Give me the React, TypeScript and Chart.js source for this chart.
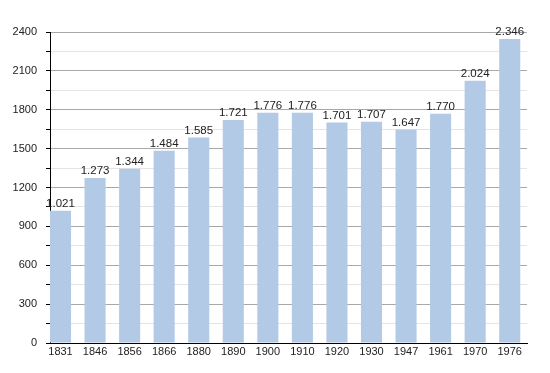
import React, { useEffect, useRef } from "react";
import { Chart, registerables } from "chart.js";

Chart.register(...registerables);

const years = ["1831", "1846", "1856", "1866", "1880", "1890", "1900", "1910", "1920", "1930", "1947", "1961", "1970", "1976"];
const population = [1021, 1273, 1344, 1484, 1585, 1721, 1776, 1776, 1701, 1707, 1647, 1770, 2024, 2346];
const yTickLabels = [0, 300, 600, 900, 1200, 1500, 1800, 2100, 2400];

const FONT = "'Liberation Sans', Arial, Helvetica, sans-serif";

function fmt(v: number): string {
  return String(v).replace(/\B(?=(\d{3})+(?!\d))/g, ".");
}

const valueLabels = {
  id: "valueLabels",
  afterDatasetsDraw(chart: any) {
    const ctx = chart.ctx;
    const meta = chart.getDatasetMeta(0);
    ctx.save();
    ctx.font = `11.5px ${FONT}`;
    ctx.fillStyle = "#222";
    ctx.textAlign = "center";
    ctx.textBaseline = "alphabetic";
    meta.data.forEach((el: any, i: number) => {
      ctx.fillText(fmt(population[i]), el.x, el.y - 4);
    });
    ctx.restore();
  },
};

export default function App() {
  const ref = useRef<HTMLCanvasElement | null>(null);
  useEffect(() => {
    if (!ref.current) return;
    const chart = new Chart(ref.current, {
      type: "bar",
      data: {
        datasets: [
          {
            data: population.map((v, i) => ({ x: i, y: v })),
            backgroundColor: "#b2cae5",
            borderWidth: 0,
            categoryPercentage: 1,
            barPercentage: 0.61,
          },
        ],
      },
      options: {
        animation: false,
        responsive: false,
        maintainAspectRatio: false,
        layout: { padding: { top: 32, right: 23, left: 0, bottom: 0 } },
        plugins: { legend: { display: false }, tooltip: { enabled: false } },
        scales: {
          x: {
            type: "linear",
            offset: false,
            min: -0.304,
            max: 13.5,
            grid: { display: false, drawTicks: false, offset: false },
            border: { display: true, color: "#000", width: 1 },
            afterBuildTicks: (scale: any) => {
              scale.ticks = years.map((_, i) => ({ value: i }));
            },
            afterFit: (scale: any) => {
              scale.height = 30;
            },
            ticks: {
              autoSkip: false,
              maxRotation: 0,
              padding: 2,
              color: "#222",
              font: { family: FONT, size: 11 },
              callback: (v: any) => years[v as number] ?? "",
            },
          },
          y: {
            min: 0,
            max: 2400,
            afterFit: (scale: any) => {
              scale.width = 50;
            },
            border: { display: true, color: "#000", width: 1 },
            grid: {
              color: (c: any) => (yTickLabels.includes(c.tick?.value) ? "#a8a8a8" : "#e4e4e4"),
              tickColor: "#000",
              tickLength: 4,
              lineWidth: 1,
            },
            ticks: {
              stepSize: 150,
              padding: 9,
              color: "#222",
              font: { family: FONT, size: 11 },
              callback: (v: any) => (yTickLabels.includes(v as number) ? String(v) : ""),
            },
          },
        },
      },
      plugins: [valueLabels],
    });
    return () => chart.destroy();
  }, []);
  return (
    <div style={{ position: "fixed", left: 0, top: 0, width: 550, height: 373, background: "#fff" }}>
      <canvas ref={ref} width={550} height={373} style={{ width: 550, height: 373 }} />
    </div>
  );
}
